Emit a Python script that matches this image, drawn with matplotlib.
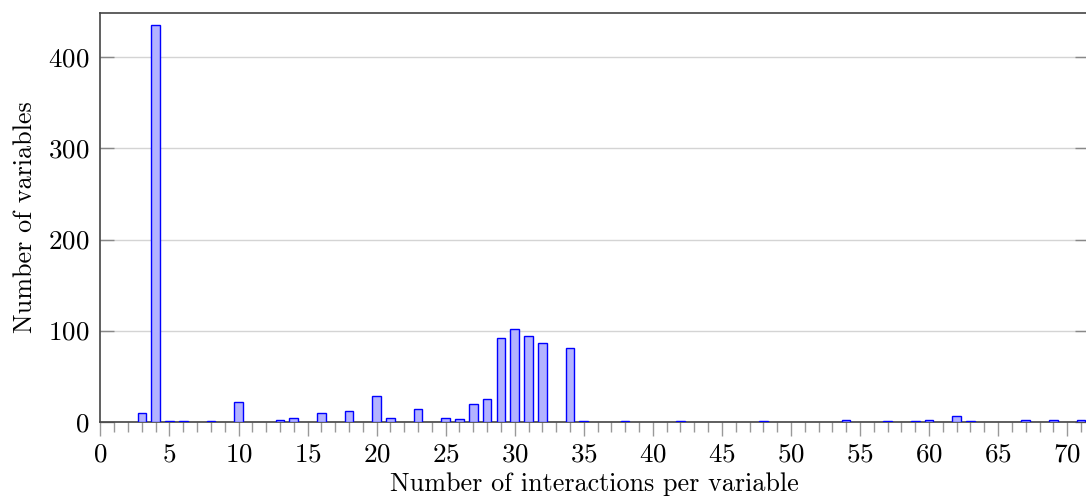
import numpy as np
import matplotlib
matplotlib.use("Agg")
import matplotlib.pyplot as plt
from matplotlib.ticker import MultipleLocator

# === data ===
interactions = [3, 4, 5, 6, 8, 10, 13, 14, 16, 18, 20, 21, 23, 25, 26, 27, 28,
                29, 30, 31, 32, 34, 35, 38, 42, 48, 54, 57, 59, 60, 62, 63,
                67, 69, 71]
n_variables = [10, 436, 1, 1, 1, 22, 2, 4, 10, 12, 28, 4, 14, 4, 3, 19, 25,
               92, 102, 94, 86, 81, 1, 1, 1, 1, 2, 1, 1, 2, 6, 1,
               2, 2, 2]
x_label = "Number of interactions per variable"
y_label = "Number of variables"

plt.rcParams['font.family'] = 'serif'
plt.rcParams['font.serif'] = ['cmr10', 'DejaVu Serif']
plt.rcParams['axes.formatter.use_mathtext'] = True
plt.rcParams['font.size'] = 18.8

fig = plt.figure(figsize=(10.86, 5.04), dpi=100)
ax = fig.add_axes([100.4 / 1086, 82.3 / 504, 1 - 100.4 / 1086 + 0.003, (421.7 - 12.7) / 504])

ax.bar(interactions, n_variables, width=0.62, color='#b3b3ff',
       edgecolor='blue', linewidth=1.0, zorder=3)

ax.set_xlim(0, 71.6)
ax.set_ylim(0, 449)
ax.xaxis.set_major_locator(MultipleLocator(5))
ax.xaxis.set_minor_locator(MultipleLocator(1))
ax.yaxis.set_major_locator(MultipleLocator(100))

ax.grid(axis='y', color='#d4d4d4', linewidth=1.0, zorder=0)
ax.tick_params(axis='x', which='major', direction='out', length=10, width=1,
               color='#999999', pad=5, labelsize=19.5)
ax.tick_params(axis='x', which='minor', direction='out', length=7, width=1,
               color='#999999')
ax.tick_params(axis='y', which='major', direction='in', length=10, width=1,
               color='#888888', right=True, pad=8, labelsize=19.5)

for side in ['left', 'bottom', 'top', 'right']:
    ax.spines[side].set_color('#444444')
    ax.spines[side].set_linewidth(1.2)

ax.set_xlabel(x_label, labelpad=4)
ax.set_ylabel(y_label, labelpad=8)

fig.savefig("out.png", dpi=100)
